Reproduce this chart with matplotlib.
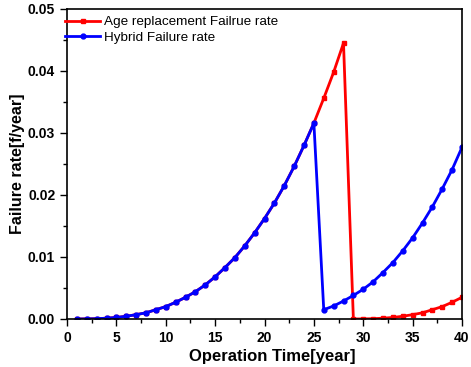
import numpy as np
import matplotlib as mpl
mpl.use('Agg')
import matplotlib.pyplot as plt
from matplotlib.ticker import MultipleLocator

plt.rcParams['font.family'] = ['Liberation Sans', 'DejaVu Sans']

years = np.arange(1, 41)
# shared wear-out segment (years 1-25)
base = [0.0000, 0.00002, 0.00005, 0.00013, 0.00025, 0.00044, 0.0007, 0.0010,
        0.0015, 0.0020, 0.0027, 0.0035, 0.0044, 0.0055, 0.0068, 0.0083,
        0.0099, 0.0118, 0.0139, 0.0162, 0.0187, 0.0215, 0.0246, 0.0280, 0.0316]
age_tail = [0.0356, 0.0398, 0.0445, 0.0000, 0.00002, 0.00005, 0.00013, 0.00025,
            0.00044, 0.0007, 0.0010, 0.0015, 0.0020, 0.0027, 0.0035]
hybrid_tail = [0.0015, 0.0021, 0.0029, 0.0038, 0.0048, 0.0060, 0.0075, 0.0091,
               0.0110, 0.0131, 0.0155, 0.0181, 0.0210, 0.0241, 0.0277]
age_rate = base + age_tail
hybrid_rate = base + hybrid_tail

fig = plt.figure(figsize=(4.71, 3.67), dpi=100)
ax = fig.add_axes([67/471, 1-319/367, 395/471, 310/367])
ax.plot(years, age_rate, 'r-', marker='s', ms=3.5, lw=2, label='Age replacement Failrue rate')
ax.plot(years, hybrid_rate, 'b-', marker='o', ms=3.5, lw=2, label='Hybrid Failure rate')
ax.set_xlim(0, 40)
ax.set_ylim(0, 0.05)
ax.xaxis.set_major_locator(MultipleLocator(5))
ax.xaxis.set_minor_locator(MultipleLocator(2.5))
ax.yaxis.set_major_locator(MultipleLocator(0.01))
ax.yaxis.set_minor_locator(MultipleLocator(0.005))
ax.yaxis.set_major_formatter(mpl.ticker.FormatStrFormatter('%.2f'))
ax.tick_params(which='major', length=5, width=1, labelsize=10)
ax.tick_params(which='minor', length=3, width=1)
for lab in ax.get_xticklabels() + ax.get_yticklabels():
    lab.set_fontweight('bold')
for s in ax.spines.values():
    s.set_linewidth(1.2)
ax.set_xlabel('Operation Time[year]', fontsize=12, fontweight='bold', labelpad=3)
ax.xaxis.label.set_x(0.52)
ax.set_ylabel('Failure rate[f/year]', fontsize=11.5, fontweight='bold', labelpad=2)
ax.legend(loc='upper left', frameon=False, fontsize=9.7, handlelength=2.6,
          borderaxespad=0.0, handletextpad=0.25, labelspacing=0.25,
          bbox_to_anchor=(-0.018, 0.995))
fig.savefig('out.png', dpi=100)
